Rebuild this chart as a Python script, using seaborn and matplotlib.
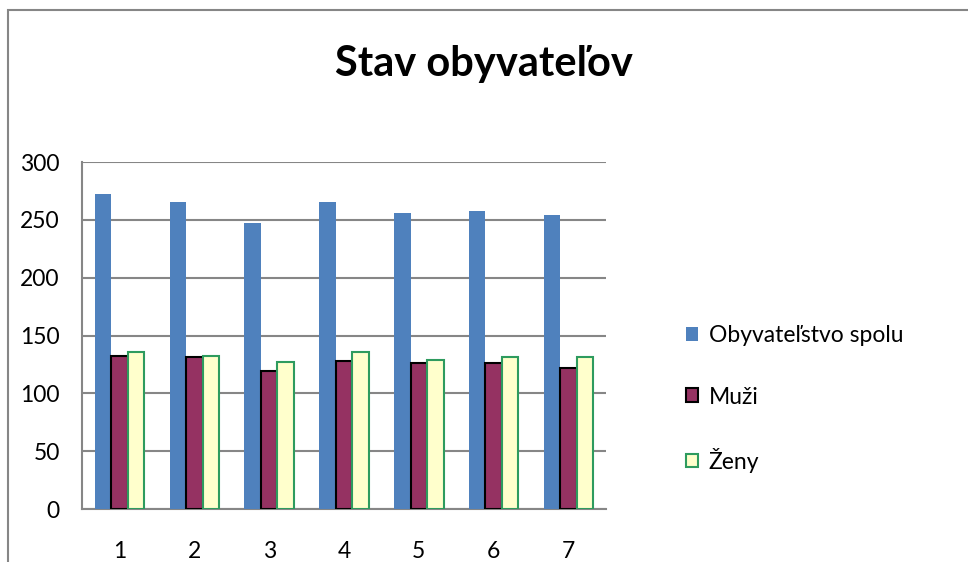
import numpy as np
import pandas as pd
import seaborn as sns
import matplotlib.pyplot as plt
from matplotlib.patches import Rectangle

categories = ['1', '2', '3', '4', '5', '6', '7']
spolu = [272, 265, 247, 265, 256, 258, 254]
muzi = [132, 131, 119, 128, 126, 126, 122]
zeny = [136, 132, 127, 136, 129, 131, 131]
series = ['Obyvateľstvo spolu', 'Muži', 'Ženy']

df = pd.DataFrame({
    'kat': categories * 3,
    'hodnota': spolu + muzi + zeny,
    'seria': [series[0]] * 7 + [series[1]] * 7 + [series[2]] * 7,
})

sns.set_style('white')
plt.rcParams['font.family'] = ['Lato', 'DejaVu Sans']
plt.rcParams['text.color'] = 'black'
plt.rcParams['xtick.color'] = 'black'
plt.rcParams['ytick.color'] = 'black'

fills = ['#4F81BD', '#953262', '#FFFFCC']
edges = ['#4F81BD', '#000000', '#2E9B5E']
grid_col = '#868686'

fig = plt.figure(figsize=(9.68, 5.62), dpi=100)
ax = fig.add_axes([82 / 968, 1 - 509 / 562, (606 - 82) / 968, (509 - 162) / 562])

sns.barplot(data=df, x='kat', y='hodnota', hue='seria', hue_order=series,
            palette=fills, width=0.66, gap=0, ax=ax, legend=False, saturation=1)

for cont, ec in zip(ax.containers, edges):
    for p in cont:
        p.set_edgecolor(ec)
        p.set_linewidth(1.5 if ec != fills[0] else 0)
        p.set_zorder(3)

ax.set_ylim(0, 300)
ax.set_xlim(-0.5, 6.5)
ax.set_yticks(np.arange(0, 301, 50))
ax.yaxis.grid(True, color=grid_col, lw=1.5)
ax.set_axisbelow(True)
ax.set_xlabel('')
ax.set_ylabel('')

for s in ['top', 'right']:
    ax.spines[s].set_visible(False)
for s in ['left', 'bottom']:
    ax.spines[s].set_color(grid_col)
    ax.spines[s].set_linewidth(1.5)

ax.set_xticks(np.arange(-0.5, 7, 1), minor=True)
ax.tick_params(axis='x', which='minor', length=7, width=1.5, color=grid_col, direction='out')
ax.tick_params(axis='x', which='major', length=0, pad=23, labelsize=16.5)
ax.tick_params(axis='y', length=7, width=1.5, color=grid_col, direction='out', pad=9, labelsize=16.5)

fig.text(0.5, 1 - 64 / 562, 'Stav obyvateľov', ha='center', va='center',
         fontsize=30, fontweight='bold')

handles = [cont[0] for cont in ax.containers]
fig.legend(handles, series, loc='center left', bbox_to_anchor=(665 / 968, 1 - 399 / 562),
           frameon=False, fontsize=16.5, handlelength=0.55, handleheight=0.55,
           handletextpad=0.45, labelspacing=1.75)

fig.patches.append(Rectangle((8 / 968, -0.1), 1.2, 1 - 10 / 562 + 0.1, transform=fig.transFigure,
                             fill=False, edgecolor=grid_col, lw=1.5))

fig.savefig('out.png', dpi=100)
